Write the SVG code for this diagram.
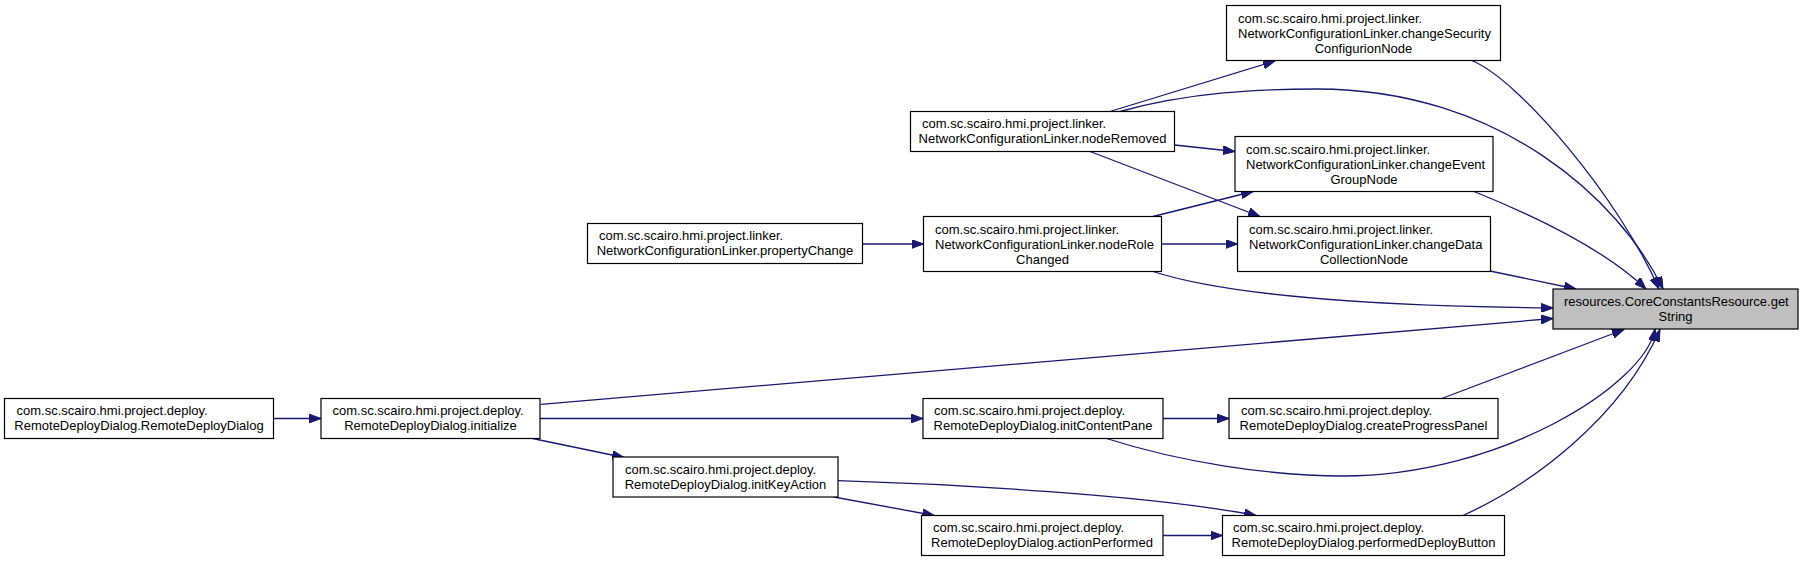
<svg xmlns="http://www.w3.org/2000/svg" width="1805" height="562" viewBox="0 0 1805 562">
<style>
  .node rect { fill: #ffffff; stroke: #000000; stroke-width: 1.2; }
  .node.target rect { fill: #bfbfbf; }
  .node text { font-family: "Liberation Sans", Arial, sans-serif; font-size: 13px; fill: #000000; }
  .node text.c { text-anchor: middle; }
  .edges path { fill: none; stroke: #191970; stroke-width: 1.3; marker-end: url(#arrow); }
</style>
<defs>
  <marker id="arrow" markerUnits="userSpaceOnUse" markerWidth="13" markerHeight="9" refX="12" refY="4.5" orient="auto">
    <path d="M0,0 L12,4.5 L0,9 z" fill="#191970" stroke="#191970" stroke-width="1"/>
  </marker>
</defs>
<rect x="0" y="0" width="1805" height="562" fill="#ffffff"/>

<g class="edges" id="edges">
  <path d="M1110,111.5 L1275,61"/>
  <path d="M1120,111.5 C1190,92 1260,89 1317,89 C1500,89 1620,200 1663,289"/>
  <path d="M1471.7,60.5 C1520,80 1620,200 1659,289"/>
  <path d="M1174.7,145 L1235,151.5"/>
  <path d="M1090,151.5 L1260,216.5"/>
  <path d="M1474,191.5 C1520,210 1600,245 1646,289"/>
  <path d="M1153,216.5 L1253,191.5"/>
  <path d="M1161.5,244 L1237.5,244"/>
  <path d="M1153,271.5 C1210,290 1330,306 1553,308"/>
  <path d="M862.5,244 L923.5,244"/>
  <path d="M1490,271 L1576,289"/>
  <path d="M541,404.3 L1553,318.5"/>
  <path d="M273.5,418.5 L321,418.5"/>
  <path d="M540,418.5 L923,418.5"/>
  <path d="M532.5,438.5 L624,457.5"/>
  <path d="M1163,418.5 L1229,418.5"/>
  <path d="M1106.5,438.5 C1180,462 1270,476 1343,476 C1500,476 1645,385 1655,329"/>
  <path d="M1441.7,398.5 L1624,329.5"/>
  <path d="M838,480.7 C950,484 1150,495 1256,515.5"/>
  <path d="M834,497 L934.3,515.5"/>
  <path d="M1163,535.5 L1222.5,535.5"/>
  <path d="M1463,515.5 C1530,485 1620,420 1660,329.5"/>
</g>

<g class="node target" id="node_getString">
  <rect x="1553" y="289" width="245" height="40"/>
  <text x="1564" y="305.5">resources.CoreConstantsResource.get</text>
  <text class="c" x="1675.5" y="320.5">String</text>
</g>
<g class="node" id="node_changeSecurity">
  <rect x="1226.5" y="5.5" width="274" height="55"/>
  <text x="1238" y="22.5">com.sc.scairo.hmi.project.linker.</text>
  <text x="1238" y="37.5">NetworkConfigurationLinker.changeSecurity</text>
  <text class="c" x="1363.5" y="52.5">ConfigurionNode</text>
</g>
<g class="node" id="node_nodeRemoved">
  <rect x="910.5" y="111.5" width="264" height="40"/>
  <text x="922" y="128">com.sc.scairo.hmi.project.linker.</text>
  <text class="c" x="1042.5" y="143">NetworkConfigurationLinker.nodeRemoved</text>
</g>
<g class="node" id="node_changeEvent">
  <rect x="1235" y="136.5" width="258" height="55"/>
  <text x="1246" y="153.5">com.sc.scairo.hmi.project.linker.</text>
  <text x="1246" y="168.5">NetworkConfigurationLinker.changeEvent</text>
  <text class="c" x="1364" y="183.5">GroupNode</text>
</g>
<g class="node" id="node_propertyChange">
  <rect x="587.5" y="223.5" width="275" height="40"/>
  <text x="599" y="240">com.sc.scairo.hmi.project.linker.</text>
  <text class="c" x="725" y="255">NetworkConfigurationLinker.propertyChange</text>
</g>
<g class="node" id="node_nodeRoleChanged">
  <rect x="923.5" y="216.5" width="238" height="55"/>
  <text x="935" y="233.5">com.sc.scairo.hmi.project.linker.</text>
  <text x="935" y="248.5">NetworkConfigurationLinker.nodeRole</text>
  <text class="c" x="1042.5" y="263.5">Changed</text>
</g>
<g class="node" id="node_changeData">
  <rect x="1237.5" y="216.5" width="253" height="55"/>
  <text x="1249" y="233.5">com.sc.scairo.hmi.project.linker.</text>
  <text x="1249" y="248.5">NetworkConfigurationLinker.changeData</text>
  <text class="c" x="1364" y="263.5">CollectionNode</text>
</g>
<g class="node" id="node_RemoteDeployDialog">
  <rect x="4.5" y="398.5" width="269" height="40"/>
  <text x="16.5" y="415">com.sc.scairo.hmi.project.deploy.</text>
  <text class="c" x="139" y="430">RemoteDeployDialog.RemoteDeployDialog</text>
</g>
<g class="node" id="node_initialize">
  <rect x="321" y="398.5" width="219" height="40"/>
  <text x="332.5" y="415">com.sc.scairo.hmi.project.deploy.</text>
  <text class="c" x="430.5" y="430">RemoteDeployDialog.initialize</text>
</g>
<g class="node" id="node_initContentPane">
  <rect x="923" y="398.5" width="240" height="40"/>
  <text x="934" y="415">com.sc.scairo.hmi.project.deploy.</text>
  <text class="c" x="1043" y="430">RemoteDeployDialog.initContentPane</text>
</g>
<g class="node" id="node_createProgressPanel">
  <rect x="1229" y="398.5" width="269" height="40"/>
  <text x="1241" y="415">com.sc.scairo.hmi.project.deploy.</text>
  <text class="c" x="1363.5" y="430">RemoteDeployDialog.createProgressPanel</text>
</g>
<g class="node" id="node_initKeyAction">
  <rect x="613" y="457" width="225" height="40"/>
  <text x="625" y="473.5">com.sc.scairo.hmi.project.deploy.</text>
  <text class="c" x="725.5" y="488.5">RemoteDeployDialog.initKeyAction</text>
</g>
<g class="node" id="node_actionPerformed">
  <rect x="921.5" y="515.5" width="241.5" height="40"/>
  <text x="933" y="532">com.sc.scairo.hmi.project.deploy.</text>
  <text class="c" x="1042" y="547">RemoteDeployDialog.actionPerformed</text>
</g>
<g class="node" id="node_performedDeployButton">
  <rect x="1222.5" y="515.5" width="282" height="40"/>
  <text x="1233" y="532">com.sc.scairo.hmi.project.deploy.</text>
  <text class="c" x="1363.5" y="547">RemoteDeployDialog.performedDeployButton</text>
</g>
</svg>
